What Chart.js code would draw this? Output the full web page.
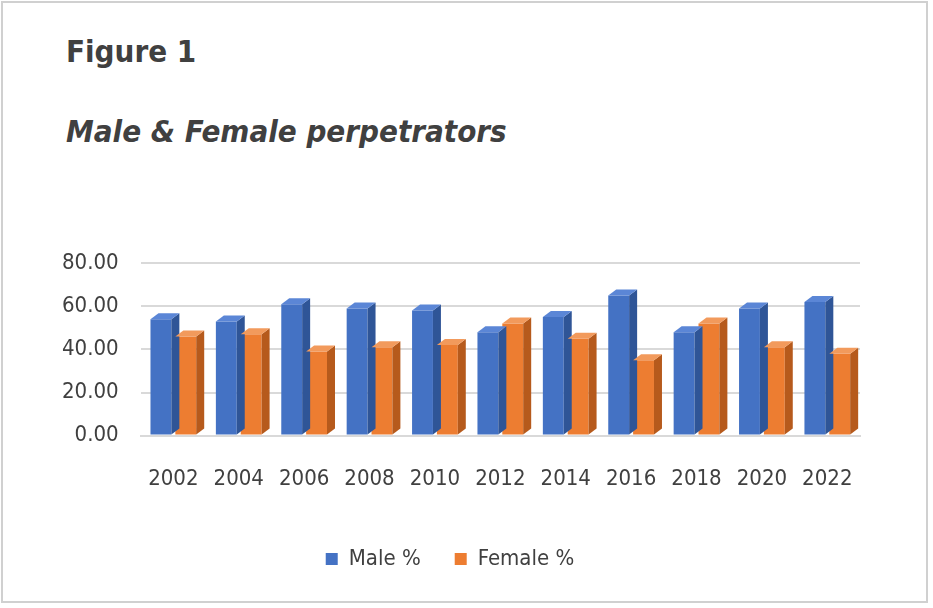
<!DOCTYPE html>
<html>
<head>
<meta charset="utf-8">
<script src="https://cdn.jsdelivr.net/npm/chart.js@4"></script>
<style>
  body { margin: 0; background: #fff; font-family: "Liberation Sans Narrow", "DejaVu Sans Condensed", Arial, sans-serif; }
  #frame { position: absolute; left: 1px; top: 1px; width: 927px; height: 602px; border: 2px solid #d0d0d0; box-sizing: border-box; }
  #fig { position: absolute; left: 66px; top: 33px; font-size: 31px; font-weight: bold; color: #404040; }
  #sub { position: absolute; left: 66px; top: 113px; font-size: 31px; font-weight: bold; font-style: italic; color: #404040; }
  #wrap { position: absolute; left: 40px; top: 228px; width: 840px; height: 352px; }
</style>
</head>
<body>
<div id="frame"></div>
<div id="fig">Figure 1</div>
<div id="sub">Male &amp; Female perpetrators</div>
<div id="wrap"><canvas id="chart"></canvas></div>
<script>
// Данные
const years = ['2002', '2004', '2006', '2008', '2010', '2012', '2014', '2016', '2018', '2020', '2022'];
const malePct = [54, 53, 61, 59, 58, 48, 55, 65, 48, 59, 62];
const femalePct = [46, 47, 39, 41, 42, 52, 45, 35, 52, 41, 38];

const fontFamily = '"Liberation Sans Narrow", "DejaVu Sans Condensed", Arial, sans-serif';

// Псевдо-3D грани столбиков
const depthPlugin = {
    id: 'depth',
    afterDatasetsDraw(chart) {
        const ctx = chart.ctx;
        const dx = 8, dy = -6;
        const sides = ['#2f5597', '#b65a1c'];
        const tops = ['#5b86d6', '#f29a5c'];
        chart.data.datasets.forEach((ds, i) => {
            chart.getDatasetMeta(i).data.forEach(bar => {
                const l = bar.x - bar.width / 2, r = bar.x + bar.width / 2;
                const t = bar.y, b = bar.base;
                ctx.fillStyle = sides[i];
                ctx.beginPath();
                ctx.moveTo(r, b); ctx.lineTo(r, t); ctx.lineTo(r + dx, t + dy); ctx.lineTo(r + dx, b + dy);
                ctx.closePath(); ctx.fill();
                ctx.fillStyle = tops[i];
                ctx.beginPath();
                ctx.moveTo(l, t); ctx.lineTo(r, t); ctx.lineTo(r + dx, t + dy); ctx.lineTo(l + dx, t + dy);
                ctx.closePath(); ctx.fill();
            });
        });
    }
};

new Chart(document.getElementById('chart'), {
    type: 'bar',
    data: {
        labels: years,
        datasets: [
            { label: 'Male %', data: malePct, backgroundColor: '#4472c4' },
            { label: 'Female %', data: femalePct, backgroundColor: '#ed7d31' }
        ]
    },
    options: {
        responsive: true,
        maintainAspectRatio: false,
        animation: false,
        categoryPercentage: 0.76,
        barPercentage: 0.84,
        layout: { padding: { left: 0, right: 20, top: 6 } },
        plugins: {
            legend: {
                position: 'bottom',
                labels: { color: '#404040', font: { size: 22, family: fontFamily }, boxWidth: 12, boxHeight: 12, padding: 34 }
            },
            tooltip: { enabled: false }
        },
        scales: {
            y: {
                min: 0, max: 80,
                ticks: { stepSize: 20, color: '#404040', font: { size: 22, family: fontFamily }, padding: 22,
                         callback: v => v.toFixed(2) },
                grid: { color: '#d9d9d9', lineWidth: 2, drawTicks: false },
                border: { display: false }
            },
            x: {
                ticks: { color: '#404040', font: { size: 22, family: fontFamily }, padding: 22 },
                grid: { display: false },
                border: { color: '#d9d9d9', width: 2 }
            }
        }
    },
    plugins: [depthPlugin]
});
</script>
</body>
</html>
